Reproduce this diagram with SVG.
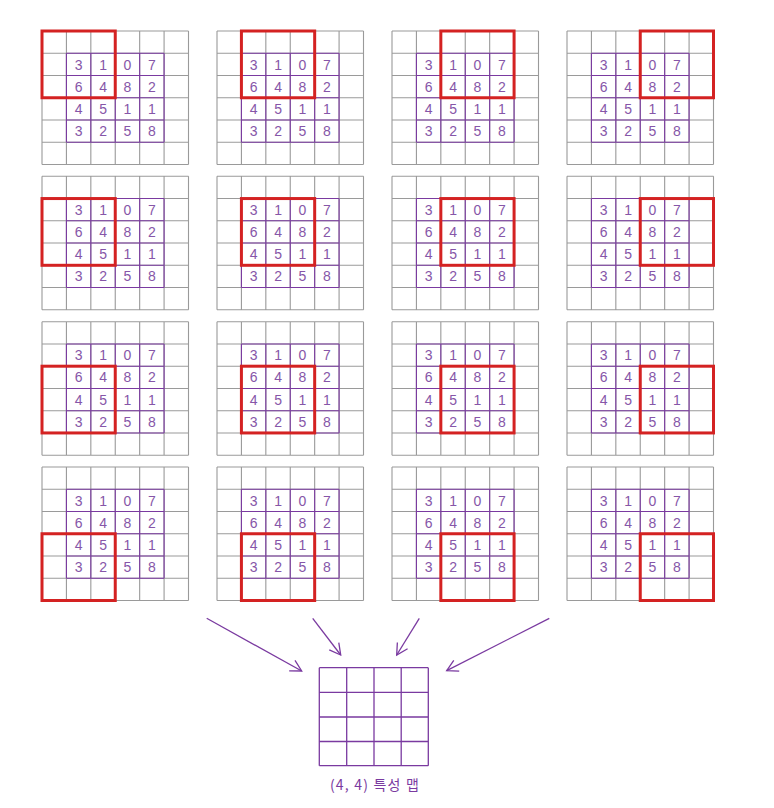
<svg xmlns="http://www.w3.org/2000/svg" xmlns:xlink="http://www.w3.org/1999/xlink" width="774" height="808" viewBox="0 0 774 808">
<style>
.g{stroke:#9a9a9a;stroke-width:1.1;fill:none}
.p{stroke:#7a3aa0;stroke-width:1.1;fill:none}
.n{font-family:"Liberation Sans",Arial,sans-serif;font-size:14px;fill:#8656a8;text-anchor:middle}
.win{fill:none;stroke:#d42222;stroke-width:3}
.c{stroke:#7a3aa0;stroke-width:1.3;fill:none}
.lbl{font-family:"Noto Sans CJK KR","Noto Sans",sans-serif;font-size:14px;letter-spacing:1.2px;fill:#7a3aa0;text-anchor:middle}
</style>
<defs>
<marker id="ah" markerWidth="16" markerHeight="16" refX="12" refY="8" orient="auto" markerUnits="userSpaceOnUse">
<path d="M1,2 L12,8 L1,14" fill="none" stroke="#7a3aa0" stroke-width="1.3"/>
</marker>
<g id="panel">
<path class="g" d="M0,0V133.5M24.42,0V133.5M48.83,0V133.5M73.25,0V133.5M97.67,0V133.5M122.08,0V133.5M146.5,0V133.5M0,0H146.5M0,22.25H146.5M0,44.5H146.5M0,66.75H146.5M0,89H146.5M0,111.25H146.5M0,133.5H146.5"/>
<path class="p" d="M24.42,22.25V111.25M48.83,22.25V111.25M73.25,22.25V111.25M97.67,22.25V111.25M122.08,22.25V111.25M24.42,22.25H122.08M24.42,44.5H122.08M24.42,66.75H122.08M24.42,89H122.08M24.42,111.25H122.08"/>
<text class="n" x="36.63" y="38.5">3</text><text class="n" x="61.04" y="38.5">1</text><text class="n" x="85.46" y="38.5">0</text><text class="n" x="109.88" y="38.5">7</text>
<text class="n" x="36.63" y="60.7">6</text><text class="n" x="61.04" y="60.7">4</text><text class="n" x="85.46" y="60.7">8</text><text class="n" x="109.88" y="60.7">2</text>
<text class="n" x="36.63" y="83">4</text><text class="n" x="61.04" y="83">5</text><text class="n" x="85.46" y="83">1</text><text class="n" x="109.88" y="83">1</text>
<text class="n" x="36.63" y="105.2">3</text><text class="n" x="61.04" y="105.2">2</text><text class="n" x="85.46" y="105.2">5</text><text class="n" x="109.88" y="105.2">8</text>
</g>
</defs>
<rect width="774" height="808" fill="#ffffff"/>

<g id="p00" transform="translate(42,31)"><use xlink:href="#panel"/><rect class="win" x="0" y="0" width="73.25" height="66.75"/></g>
<g id="p01" transform="translate(217,31)"><use xlink:href="#panel"/><rect class="win" x="24.42" y="0" width="73.25" height="66.75"/></g>
<g id="p02" transform="translate(392,31)"><use xlink:href="#panel"/><rect class="win" x="48.83" y="0" width="73.25" height="66.75"/></g>
<g id="p03" transform="translate(567,31)"><use xlink:href="#panel"/><rect class="win" x="73.25" y="0" width="73.25" height="66.75"/></g>

<g id="p10" transform="translate(42,176.3)"><use xlink:href="#panel"/><rect class="win" x="0" y="22.25" width="73.25" height="66.75"/></g>
<g id="p11" transform="translate(217,176.3)"><use xlink:href="#panel"/><rect class="win" x="24.42" y="22.25" width="73.25" height="66.75"/></g>
<g id="p12" transform="translate(392,176.3)"><use xlink:href="#panel"/><rect class="win" x="48.83" y="22.25" width="73.25" height="66.75"/></g>
<g id="p13" transform="translate(567,176.3)"><use xlink:href="#panel"/><rect class="win" x="73.25" y="22.25" width="73.25" height="66.75"/></g>

<g id="p20" transform="translate(42,321.7)"><use xlink:href="#panel"/><rect class="win" x="0" y="44.5" width="73.25" height="66.75"/></g>
<g id="p21" transform="translate(217,321.7)"><use xlink:href="#panel"/><rect class="win" x="24.42" y="44.5" width="73.25" height="66.75"/></g>
<g id="p22" transform="translate(392,321.7)"><use xlink:href="#panel"/><rect class="win" x="48.83" y="44.5" width="73.25" height="66.75"/></g>
<g id="p23" transform="translate(567,321.7)"><use xlink:href="#panel"/><rect class="win" x="73.25" y="44.5" width="73.25" height="66.75"/></g>

<g id="p30" transform="translate(42,467)"><use xlink:href="#panel"/><rect class="win" x="0" y="66.75" width="73.25" height="66.75"/></g>
<g id="p31" transform="translate(217,467)"><use xlink:href="#panel"/><rect class="win" x="24.42" y="66.75" width="73.25" height="66.75"/></g>
<g id="p32" transform="translate(392,467)"><use xlink:href="#panel"/><rect class="win" x="48.83" y="66.75" width="73.25" height="66.75"/></g>
<g id="p33" transform="translate(567,467)"><use xlink:href="#panel"/><rect class="win" x="73.25" y="66.75" width="73.25" height="66.75"/></g>

<g id="featuremap">
<path class="c" d="M319.3,667.7V765.7M346.7,667.7V765.7M374,667.7V765.7M401.2,667.7V765.7M428.3,667.7V765.7M319.3,667.7H428.3M319.3,692.3H428.3M319.3,717H428.3M319.3,741.5H428.3M319.3,765.7H428.3"/>
<text class="lbl" x="375" y="790">(4, 4) 특성 맵</text>
</g>

<g id="connectors">
<line class="c" x1="206.7" y1="618.3" x2="301.7" y2="671" marker-end="url(#ah)"/>
<line class="c" x1="312.7" y1="618.3" x2="340.7" y2="655" marker-end="url(#ah)"/>
<line class="c" x1="419.3" y1="618.3" x2="396.7" y2="655" marker-end="url(#ah)"/>
<line class="c" x1="549.3" y1="618.3" x2="446.7" y2="670.7" marker-end="url(#ah)"/>
</g>
</svg>
